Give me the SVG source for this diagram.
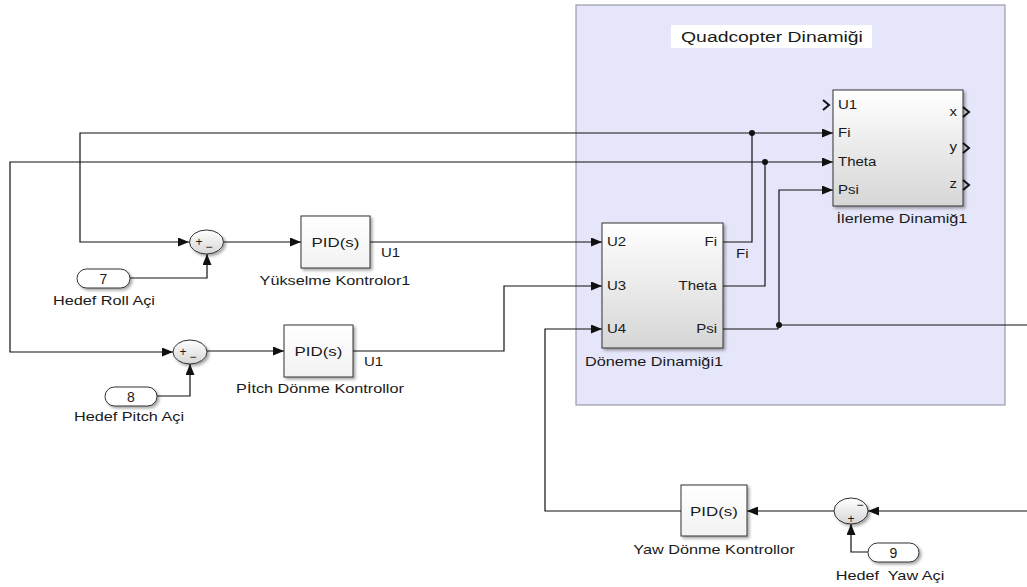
<svg xmlns="http://www.w3.org/2000/svg" width="1027" height="587" viewBox="0 0 1027 587">
<style>
text{font-family:"Liberation Sans",Arial,sans-serif;fill:#1a1a1a;}
.sc{transform-box:fill-box;transform-origin:center;transform:scaleX(1.25);}
.sl{transform-box:fill-box;transform-origin:left center;transform:scaleX(1.25);}
.sr{transform-box:fill-box;transform-origin:right center;transform:scaleX(1.25);}
.lbl{font-size:13px;text-anchor:middle;}
.num{font-size:14px;text-anchor:middle;}
.port{font-size:12px;}
.pid{font-size:13.5px;text-anchor:middle;}
.blk{fill:url(#g);stroke:#333;stroke-width:1;filter:url(#sh);}
.pidb{fill:url(#gp);stroke:#333;stroke-width:1;filter:url(#sh);}
.sum{fill:url(#g);stroke:#333;stroke-width:1;filter:url(#sh);}
.inp{fill:#fff;stroke:#333;stroke-width:1;filter:url(#sh);}
.w{fill:none;stroke:#111;stroke-width:1.2;}
.wa{fill:none;stroke:#111;stroke-width:1.2;marker-end:url(#arr);}
.chev{fill:none;stroke:#111;stroke-width:2;}
.sign{font-size:12px;text-anchor:middle;}
</style>
<defs>
<linearGradient id="g" x1="0" y1="0" x2="0" y2="1"><stop offset="0" stop-color="#ffffff"/><stop offset="1" stop-color="#d6d6d6"/></linearGradient>
<linearGradient id="gp" x1="0" y1="0" x2="0" y2="1"><stop offset="0" stop-color="#ffffff"/><stop offset="1" stop-color="#f2f2f2"/></linearGradient>
<filter id="sh" x="-20%" y="-20%" width="150%" height="150%"><feDropShadow dx="2" dy="2" stdDeviation="1.5" flood-color="#000" flood-opacity="0.35"/></filter>
<marker id="arr" viewBox="0 0 11 9" refX="11" refY="4.5" markerWidth="11" markerHeight="9" markerUnits="userSpaceOnUse" orient="auto"><path d="M0,0 L11,4.5 L0,9 z" fill="#111"/></marker>
</defs>
<rect width="1027" height="587" fill="#ffffff"/>
<g id="area">
<rect x="576" y="5" width="429" height="400" fill="#e6e6fa" stroke="#9a9aa8" stroke-width="1.2"/>
<rect x="671" y="25" width="201" height="23" fill="#ffffff"/>
<text x="772" y="42" class="sc" style="font-size:15.5px;text-anchor:middle">Quadcopter Dinamiği</text>
</g>
<g id="connectors">
<path class="w" d="M723,242 H752 V133"/>
<path class="wa" d="M752,133 H833"/>
<path class="wa" d="M752,133 H80 V242 H189"/>
<path class="w" d="M723,286 H765 V162"/>
<path class="wa" d="M765,162 H833"/>
<path class="wa" d="M765,162 H10 V352 H173"/>
<path class="w" d="M723,329 H778 L779,325 H1027"/>
<path class="wa" d="M779,325 V190 H833"/>
<circle cx="752" cy="133" r="3" fill="#111"/>
<circle cx="765" cy="162" r="3" fill="#111"/>
<circle cx="779" cy="325" r="3" fill="#111"/>
<path class="wa" d="M224,242 H301"/>
<path class="wa" d="M130,278 H207 V254"/>
<path class="wa" d="M370,242 H602"/>
<path class="wa" d="M207,351 H284"/>
<path class="wa" d="M157,396 H190 V364"/>
<path class="wa" d="M353,351 H504 V286 H602"/>
<path class="wa" d="M1027,511 H868"/>
<path class="wa" d="M834,511 H747"/>
<path class="wa" d="M868,552 H851 V524"/>
<path class="wa" d="M681,511 H545 V329 H602"/>
<text x="381" y="257" class="port sl">U1</text>
<text x="364" y="366" class="port sl">U1</text>
<text x="736" y="258" class="port sl">Fi</text>
</g>
<g id="ilerleme">
<rect class="blk" x="833" y="90" width="130" height="116"/>
<path class="chev" d="M823,100 L829,105 L823,110"/>
<path class="chev" d="M963,107 L969,112 L963,117"/>
<path class="chev" d="M963,143 L969,148 L963,153"/>
<path class="chev" d="M963,180 L969,185 L963,190"/>
<text x="838" y="109" class="port sl">U1</text>
<text x="838" y="137" class="port sl">Fi</text>
<text x="838" y="166" class="port sl">Theta</text>
<text x="838" y="194" class="port sl">Psi</text>
<text x="957" y="116" class="port sr" text-anchor="end">x</text>
<text x="957" y="151" class="port sr" text-anchor="end">y</text>
<text x="957" y="188" class="port sr" text-anchor="end">z</text>
<text x="902" y="223" class="lbl sc">İlerleme Dinamiğ1</text>
</g>
<g id="doneme">
<rect class="blk" x="602" y="223" width="121" height="125"/>
<text x="607" y="246" class="port sl">U2</text>
<text x="607" y="290" class="port sl">U3</text>
<text x="607" y="333" class="port sl">U4</text>
<text x="717" y="246" class="port sr" text-anchor="end">Fi</text>
<text x="717" y="290" class="port sr" text-anchor="end">Theta</text>
<text x="717" y="333" class="port sr" text-anchor="end">Psi</text>
<text x="654" y="366" class="lbl sc">Döneme Dinamiği1</text>
</g>
<g id="sum-roll">
<ellipse class="sum" cx="206.5" cy="242" rx="17" ry="12"/>
<text x="199" y="246" class="sign">+</text>
<text x="209" y="251" class="sign">−</text>
</g>
<g id="pid-roll">
<rect class="pidb" x="301" y="216" width="69" height="52"/>
<text x="335.5" y="247" class="pid sc">PID(s)</text>
<text x="335" y="285" class="lbl sc">Yükselme Kontrolor1</text>
</g>
<g id="in-7">
<rect class="inp" x="77" y="269" width="53" height="19" rx="9.5"/>
<text x="103.5" y="283.5" class="num">7</text>
<text x="104" y="305" class="lbl sc">Hedef Roll Açi</text>
</g>
<g id="sum-pitch">
<ellipse class="sum" cx="190" cy="352" rx="17" ry="12"/>
<text x="183" y="356" class="sign">+</text>
<text x="193" y="361" class="sign">−</text>
</g>
<g id="pid-pitch">
<rect class="pidb" x="284" y="325" width="69" height="52"/>
<text x="318.5" y="356" class="pid sc">PID(s)</text>
<text x="320" y="393" class="lbl sc">Pİtch Dönme Kontrollor</text>
</g>
<g id="in-8">
<rect class="inp" x="105" y="387" width="52" height="19" rx="9.5"/>
<text x="131" y="401.5" class="num">8</text>
<text x="129" y="421" class="lbl sc">Hedef Pitch Açi</text>
</g>
<g id="sum-yaw">
<ellipse class="sum" cx="851" cy="511" rx="17" ry="13"/>
<text x="860" y="509" class="sign">−</text>
<text x="851" y="523" class="sign">+</text>
</g>
<g id="pid-yaw">
<rect class="pidb" x="681" y="485" width="66" height="51"/>
<text x="714" y="516" class="pid sc">PID(s)</text>
<text x="714" y="554" class="lbl sc">Yaw Dönme Kontrollor</text>
</g>
<g id="in-9">
<rect class="inp" x="868" y="543" width="51" height="19" rx="9.5"/>
<text x="893.5" y="557.5" class="num">9</text>
<text x="890" y="580" class="lbl sc" xml:space="preserve">Hedef  Yaw Açi</text>
</g>
</svg>
